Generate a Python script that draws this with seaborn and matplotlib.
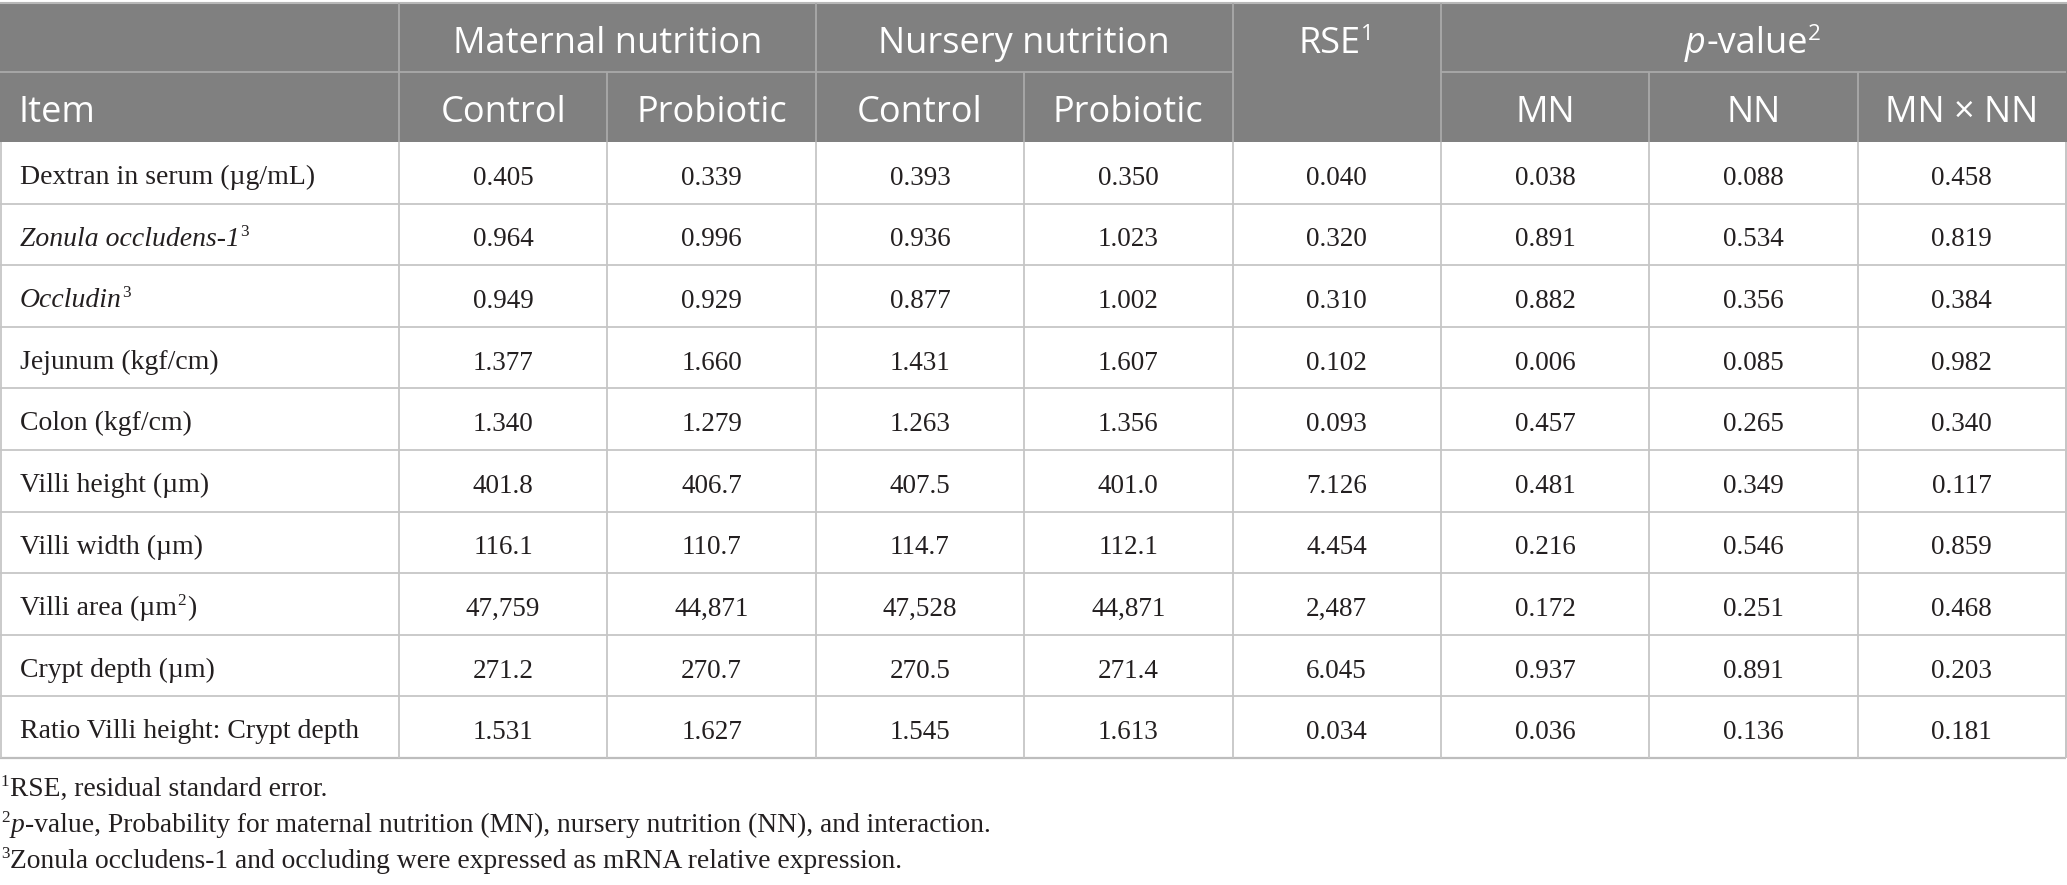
import numpy as np
import pandas as pd
import matplotlib
matplotlib.use("Agg")
import matplotlib.pyplot as plt
import seaborn as sns
from matplotlib.colors import ListedColormap
from matplotlib.patches import Rectangle
from matplotlib.transforms import ScaledTranslation

# ---------------- data ----------------
item_labels = [
    [("Dextran in serum (µg/mL)", "n")],
    [("Zonula occludens-1", "i"), ("3", "s")],
    [("Occludin", "i"), ("3", "s")],
    [("Jejunum (kgf/cm)", "n")],
    [("Colon (kgf/cm)", "n")],
    [("Villi height (µm)", "n")],
    [("Villi width (µm)", "n")],
    [("Villi area (µm", "n"), ("2", "s"), (")", "n")],
    [("Crypt depth (µm)", "n")],
    [("Ratio Villi height: Crypt depth", "n")],
]
maternal_control = [0.405, 0.964, 0.949, 1.377, 1.340, 401.8, 116.1, 47759, 271.2, 1.531]
maternal_probiotic = [0.339, 0.996, 0.929, 1.660, 1.279, 406.7, 110.7, 44871, 270.7, 1.627]
nursery_control = [0.393, 0.936, 0.877, 1.431, 1.263, 407.5, 114.7, 47528, 270.5, 1.545]
nursery_probiotic = [0.350, 1.023, 1.002, 1.607, 1.356, 401.0, 112.1, 44871, 271.4, 1.613]
rse = [0.040, 0.320, 0.310, 0.102, 0.093, 7.126, 4.454, 2487, 6.045, 0.034]
p_mn = [0.038, 0.891, 0.882, 0.006, 0.457, 0.481, 0.216, 0.172, 0.937, 0.036]
p_nn = [0.088, 0.534, 0.356, 0.085, 0.265, 0.349, 0.546, 0.251, 0.891, 0.136]
p_mnxnn = [0.458, 0.819, 0.384, 0.982, 0.340, 0.117, 0.859, 0.468, 0.203, 0.181]
mean_decimals = [3, 3, 3, 3, 3, 1, 1, 0, 1, 3]
rse_decimals = [3, 3, 3, 3, 3, 3, 3, 0, 3, 3]

group_headers = ["Maternal nutrition", "Nursery nutrition"]
sub_headers = ["Control", "Probiotic", "Control", "Probiotic"]
p_headers = ["MN", "NN", "MN × NN"]
footnotes = [
    [("1", "s"), ("RSE, residual standard error.", "n")],
    [("2", "s"), ("p", "i"), ("-value, Probability for maternal nutrition (MN), nursery nutrition (NN), and interaction.", "n")],
    [("3", "s"), ("Zonula occludens-1 and occluding were expressed as mRNA relative expression.", "n")],
]

# ---------------- layout ----------------
W, H = 2067, 885
X0, XR = 399, 2066
CW = (XR - X0) / 8
TOP, HMID, HBOT, BOT = 3, 72, 142, 758
RH = (BOT - HBOT) / 10
HEAD = "#808080"
HLINE = "#a9a9a9"
BLINE = "#c6c6c6"
TXT = "#231f20"
SERIF = "Liberation Serif"
SANS = "Open Sans"

sns.set_theme(style="white")
plt.rcParams["font.family"] = ["DejaVu Sans"]

fig = plt.figure(figsize=(W / 100, H / 100), dpi=100)
fig.patch.set_facecolor("white")

# numeric body via seaborn heatmap
cols = [maternal_control, maternal_probiotic, nursery_control, nursery_probiotic, rse, p_mn, p_nn, p_mnxnn]
decs = [mean_decimals] * 4 + [rse_decimals] + [[3] * 10] * 3
annot = np.empty((10, 8), dtype=object)
for j, (c, d) in enumerate(zip(cols, decs)):
    for i in range(10):
        annot[i, j] = f"{c[i]:,.{d[i]}f}"
df = pd.DataFrame(np.zeros((10, 8)))
hax = fig.add_axes([X0 / W, (H - BOT) / H, (XR - X0) / W, (BOT - HBOT) / H])
sns.heatmap(df, ax=hax, cmap=ListedColormap(["white"]), vmin=0, vmax=1, cbar=False,
            annot=annot, fmt="", xticklabels=False, yticklabels=False,
            annot_kws=dict(fontfamily=SERIF, fontsize=19.5, color=TXT, va="baseline"))
shift = ScaledTranslation(0, -12 / 100, fig.dpi_scale_trans)
for t in hax.texts:
    t.set_transform(t.get_transform() + shift)
hax.set_axis_off()

ax = fig.add_axes([0, 0, 1, 1], zorder=5)
ax.set_xlim(0, W)
ax.set_ylim(H, 0)
ax.axis("off")
renderer = fig.canvas.get_renderer()

# header background
ax.add_patch(Rectangle((0, TOP), W, HBOT - TOP, facecolor=HEAD, edgecolor="none"))
ax.plot([0, W], [TOP, TOP], color="#b8b8b8", lw=1.5, solid_capstyle="butt")


def line(x0, x1, y0, y1, color, lw=1.3):
    ax.plot([x0, x1], [y0, y1], color=color, lw=lw, solid_capstyle="butt")


# header lines
line(0, 1233, HMID, HMID, HLINE)
line(1441, XR, HMID, HMID, HLINE)
for x in [X0, X0 + 2 * CW, X0 + 4 * CW, X0 + 5 * CW]:
    line(x, x, TOP, HBOT, HLINE)
for x in [X0 + CW, X0 + 3 * CW, X0 + 6 * CW, X0 + 7 * CW]:
    line(x, x, HMID, HBOT, HLINE)

# body lines
for k in range(1, 10):
    y = HBOT + k * RH
    line(0, XR, y, y, BLINE)
line(0, XR, BOT, BOT, "#bdbdbd", 1.6)
for j in range(9):
    x = X0 + j * CW
    line(x, x, HBOT, BOT, BLINE)
line(0.8, 0.8, HBOT, BOT, BLINE)
line(XR, XR, HBOT, BOT, BLINE)


def rich(x, y, segs, ha, size, family, color):
    px = size * 100 / 72
    arts = []
    for text, st in segs:
        sup = "s" in st
        fs = size * 0.62 if sup else size
        yy = y - 0.36 * px if sup else y
        t = ax.text(0, yy, text, fontsize=fs, family=family,
                    style="italic" if "i" in st else "normal",
                    color=color, ha="left", va="baseline")
        w = t.get_window_extent(renderer).width
        pad = 1.0 if sup else (0.5 if "i" in st else 0)
        arts.append((t, w + pad))
    total = sum(w for _, w in arts)
    cx = x - total / 2 if ha == "center" else x
    for t, w in arts:
        t.set_x(cx)
        cx += w


HS = 26
# header row 1
rich(X0 + CW, 53, [(group_headers[0], "n")], "center", HS, SANS, "white")
rich(X0 + 3 * CW, 53, [(group_headers[1], "n")], "center", HS, SANS, "white")
rich(X0 + 4.5 * CW, 53, [("RSE", "n"), ("1", "s")], "center", HS, SANS, "white")
rich(X0 + 6.5 * CW, 53, [("p", "i"), ("-value", "n"), ("2", "s")], "center", HS, SANS, "white")
# header row 2
rich(19, 122, [("Item", "n")], "left", HS, SANS, "white")
for j, s in enumerate(sub_headers):
    rich(X0 + (j + 0.5) * CW, 122, [(s, "n")], "center", HS, SANS, "white")
for j, s in enumerate(p_headers):
    rich(X0 + (j + 5.5) * CW, 122, [(s, "n")], "center", HS, SANS, "white")

# item labels
for i, segs in enumerate(item_labels):
    rich(20, HBOT + i * RH + 42, segs, "left", 20, SERIF, TXT)

# footnotes
for k, segs in enumerate(footnotes):
    rich(1, 796 + k * 36, segs, "left", 19.8, SERIF, TXT)

fig.savefig("out.png", dpi=100, facecolor="white")
